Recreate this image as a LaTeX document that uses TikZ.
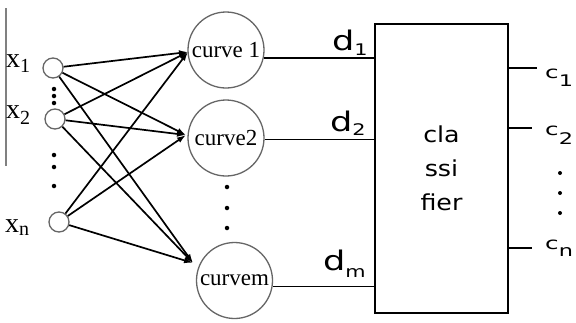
\documentclass[tikz,border=0pt]{standalone}
\usepackage{fontspec}
\setmainfont{Liberation Serif}
\newfontfamily\dvs{DejaVu Sans}
\usepackage{graphicx}
\usetikzlibrary{arrows.meta}
\newcommand\xlab[3]{{\fontsize{28}{28}\selectfont #1}\raisebox{-#3pt}{\fontsize{20}{20}\selectfont #2}}
\newcommand\dlab[3]{\scalebox{1.3}[1]{\dvs\fontsize{27}{27}\selectfont #1}\raisebox{-#3pt}{\scalebox{1.3}[1]{\dvs\fontsize{16}{16}\selectfont #2}}}
\newcommand\clab[3]{\scalebox{1.45}[1]{\dvs\fontsize{17}{17}\selectfont #1}\raisebox{-#3pt}{\scalebox{1.4}[1]{\dvs\fontsize{16}{16}\selectfont #2}}}
\begin{document}
\begin{tikzpicture}[x=1pt,y=-1pt,
  inp/.style={circle,draw=black!60,line width=1.3pt,minimum size=20pt,inner sep=0},
  crv/.style={circle,draw=black!60,line width=1.3pt,minimum size=76pt,inner sep=0,font=\fontsize{23}{23}\selectfont},
  arr/.style={line width=1.7pt,-{Latex[length=9pt,width=6pt]}},
  wire/.style={line width=1.6pt},
  lab/.style={anchor=base west,inner sep=0},
  dotn/.style={circle,fill=black,inner sep=0,minimum size=4.5pt}]
\useasboundingbox (0,0) rectangle (576,322);
\fill[white] (0,0) rectangle (576,322);
% left border line
\draw[line width=1.5pt,black!50] (6,8) -- (6,166);
% input nodes
\node[inp] (x1) at (53,68) {};
\node[inp] (x2) at (55,119) {};
\node[inp] (xn) at (59,222) {};
\node[lab] (lx1) at (6,67) {\xlab{x}{1}{5}};
\node[lab] (lx2) at (6,118) {\xlab{x}{2}{6}};
\node[lab] (lxn) at (5,232) {\xlab{x}{n}{3}};
\foreach \y in {89,96,103} \node[dotn] at (54,\y) {};
\foreach \y in {155,167,186} \node[dotn] at (54,\y) {};
% curve nodes
\node[crv] (c1) at (226,50) {curve 1};
\node[crv] (c2) at (226,138) {curve2};
\node[crv] (cm) at (234.5,280.5) {curvem};
\foreach \y in {187,208,228} \node[dotn] at (227,\y) {};
\coordinate (t1) at (188,52);
\coordinate (t2) at (186,135);
\coordinate (tm) at (193,263);
\foreach \s in {x1,x2,xn}
  \foreach \t in {t1,t2,tm}
    \draw[arr] (\s) -- (\t);
% classifier
\node[draw,line width=1.8pt,minimum width=133pt,minimum height=289pt,inner sep=0,
  align=center,font=\dvs\fontsize{22}{34}\selectfont] (cls) at (441.5,168.5)
  {\scalebox{1.15}[1]{cla}\\\scalebox{1.15}[1]{ssi}\\\scalebox{1.15}[1]{fier}};
\draw[wire] (c1.-12) -- (c1.-12 -| cls.west);
\draw[wire] (c2.-2) -- (c2.-2 -| cls.west);
\draw[wire] (cm.-9) -- (cm.-9 -| cls.west);
\node[lab] (ld1) at (332,50) {\dlab{d}{1}{5}};
\node[lab] (ld2) at (330,131) {\dlab{d}{2}{4}};
\node[lab] (ldm) at (323,270) {\dlab{d}{m}{7}};
% outputs
\coordinate (o1) at (537,68);
\coordinate (o2) at (532,128);
\coordinate (on) at (532,248);
\draw[wire] (o1 -| cls.east) -- (o1);
\draw[wire] (o2 -| cls.east) -- (o2);
\draw[wire] (on -| cls.east) -- (on);
\node[lab] (lc1) at (545,78) {\clab{c}{1}{8}};
\node[lab] (lc2) at (545,135) {\clab{c}{2}{9}};
\node[lab] (lcn) at (545,249) {\clab{c}{n}{7}};
\foreach \y in {173,193,213} \node[dotn,minimum size=4pt] at (560,\y) {};
\end{tikzpicture}
\end{document}
